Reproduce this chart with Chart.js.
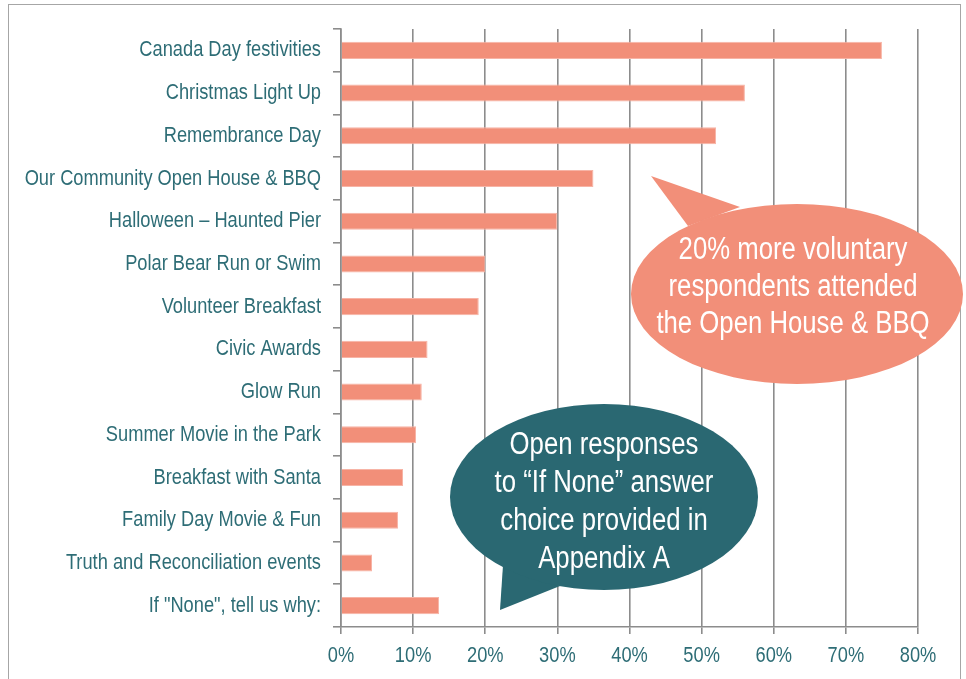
<!DOCTYPE html>
<html>
<head>
<meta charset="utf-8">
<script src="https://cdn.jsdelivr.net/npm/chart.js@4/dist/chart.umd.min.js"></script>
<style>
  html, body { margin: 0; padding: 0; background: #fff; }
  #wrap { position: relative; width: 966px; height: 679px; }
  #frame { position: absolute; left: 8px; top: 4px; width: 953px; height: 700px; border: 1.5px solid #a6a6a6; box-sizing: border-box; }
  canvas { position: absolute; left: 0; top: 0; }
</style>
</head>
<body>
<div id="wrap">
  <div id="frame"></div>
  <canvas id="eventsChart" width="966" height="679"></canvas>
</div>
<script>
// categories, top to bottom
const events = [
    'Canada Day festivities',
    'Christmas Light Up',
    'Remembrance Day',
    'Our Community Open House & BBQ',
    'Halloween \u2013 Haunted Pier',
    'Polar Bear Run or Swim',
    'Volunteer Breakfast',
    'Civic Awards',
    'Glow Run',
    'Summer Movie in the Park',
    'Breakfast with Santa',
    'Family Day Movie & Fun',
    'Truth and Reconciliation events',
    'If "None", tell us why:'
];

// percent of respondents who attended
const attendance = [75, 56, 52, 35, 30, 20, 19.1, 12, 11.2, 10.4, 8.6, 7.9, 4.3, 13.6];

// x axis ticks
const xTicks = [0, 10, 20, 30, 40, 50, 60, 70, 80];

const salmonNote = ['20% more voluntary', 'respondents attended', 'the Open House & BBQ'];
const tealNote = ['Open responses', 'to \u201cIf None\u201d answer', 'choice provided in', 'Appendix A'];

const textColor = '#2e6d76';
const labelFont = "'Liberation Sans', Arial, sans-serif";
const narrow = 0.83; // no narrow font installed, so squeeze the text a bit

function narrowText(ctx, text, x, y, align) {
    ctx.save();
    ctx.translate(x, y);
    ctx.scale(narrow, 1);
    ctx.textAlign = align;
    ctx.fillText(text, 0, 0);
    ctx.restore();
}

// axis labels, drawn by hand so they can be condensed
const axisLabelPlugin = {
    id: 'axisLabels',
    afterDraw(chart) {
        const ctx = chart.ctx;
        const xs = chart.scales.x, ys = chart.scales.y;
        ctx.save();
        ctx.fillStyle = textColor;
        ctx.font = '22px ' + labelFont;
        ctx.textBaseline = 'middle';
        events.forEach((t, i) => narrowText(ctx, t, ys.right - 20, ys.getPixelForValue(i), 'right'));
        xTicks.forEach(v => narrowText(ctx, v + '%', xs.getPixelForValue(v), xs.top + 29, 'center'));
        ctx.restore();
    }
};

// draws the two speech bubbles on top of the chart
function bubble(ctx, b, lines) {
    ctx.save();
    ctx.fillStyle = b.color;
    ctx.beginPath();
    ctx.moveTo(b.tail[0][0], b.tail[0][1]);
    ctx.lineTo(b.tail[1][0], b.tail[1][1]);
    ctx.lineTo(b.tail[2][0], b.tail[2][1]);
    ctx.closePath();
    ctx.fill();
    ctx.beginPath();
    ctx.ellipse(b.cx, b.cy, b.rx, b.ry, 0, 0, Math.PI * 2);
    ctx.fill();
    ctx.fillStyle = '#ffffff';
    ctx.font = '31px ' + labelFont;
    ctx.textBaseline = 'middle';
    lines.forEach((t, i) => {
        narrowText(ctx, t, b.cx + (b.dx || 0), b.textTop + i * b.lineH, 'center');
    });
    ctx.restore();
}

const calloutPlugin = {
    id: 'callouts',
    afterDraw(chart) {
        const ctx = chart.ctx;
        bubble(ctx, {
            color: '#f28f79', cx: 797, cy: 294, rx: 166, ry: 90,
            tail: [[651, 176], [688, 226], [740, 207]],
            textTop: 250, lineH: 37, dx: -4
        }, salmonNote);
        bubble(ctx, {
            color: '#2a6872', cx: 604, cy: 497, rx: 154, ry: 93,
            tail: [[500, 610], [503, 565], [560, 586]],
            textTop: 445, lineH: 38
        }, tealNote);
    }
};

const ctx = document.getElementById('eventsChart').getContext('2d');
new Chart(ctx, {
    type: 'bar',
    data: {
        labels: events,
        datasets: [{
            label: 'Attended',
            data: attendance,
            backgroundColor: '#f28f79',
            borderColor: '#f7b4a6',
            borderWidth: 1,
            barPercentage: 0.4,
            categoryPercentage: 1
        }]
    },
    options: {
        indexAxis: 'y',
        responsive: false,
        animation: false,
        layout: { padding: { left: 10, top: 29, right: 48, bottom: 0 } },
        plugins: { legend: { display: false }, tooltip: { enabled: false } },
        scales: {
            x: {
                min: 0,
                max: 80,
                afterBuildTicks: s => { s.ticks = xTicks.map(v => ({ value: v })); },
                ticks: {
                    color: 'rgba(0,0,0,0)',
                    font: { family: labelFont, size: 22 },
                    padding: 6,
                    callback: v => v + '%'
                },
                grid: { color: '#8c8c8c', lineWidth: 1.6, tickLength: 7 },
                border: { color: '#8c8c8c', width: 1.6 },
                afterFit: s => { s.height = 52; }
            },
            y: {
                ticks: {
                    color: 'rgba(0,0,0,0)',
                    font: { family: labelFont, size: 22 },
                    padding: 12
                },
                grid: { drawOnChartArea: false, offset: true, color: '#8c8c8c', lineWidth: 1.6, tickLength: 8 },
                border: { color: '#8c8c8c', width: 1.6 },
                afterFit: s => { s.width = 331; }
            }
        }
    },
    plugins: [axisLabelPlugin, calloutPlugin]
});
</script>
</body>
</html>
